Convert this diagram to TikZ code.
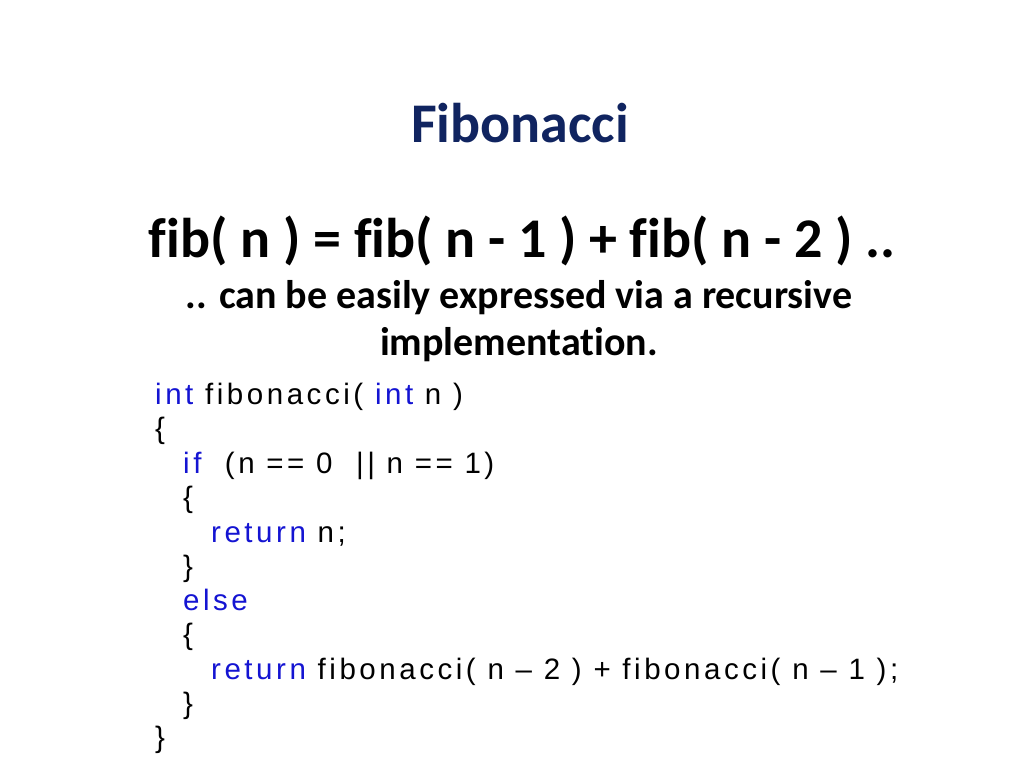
\documentclass[tikz,border=0pt]{standalone}
\usepackage{fontspec}
\setmainfont[Ligatures={NoCommon}]{Carlito}
\newfontfamily\codefont[LetterSpace=12]{Liberation Sans}
\definecolor{ttl}{RGB}{16,36,96}
\definecolor{kw}{RGB}{20,20,210}
\begin{document}
\begin{tikzpicture}[x=1pt,y=-1pt,
  code/.style={anchor=base west,inner sep=0pt,font=\codefont\fontsize{29.5}{32}\selectfont}]
\useasboundingbox (0,0) rectangle (1024,768);
\node[font=\bfseries\fontsize{56}{60}\selectfont,text=ttl] (t) at (520,123) {Fibonacci};
\node[font=\bfseries\fontsize{56}{60}\selectfont] (f) at (522,241) {fib( n ) = fib( n - 1 ) + fib( n - 2 ) ..};
\node[font=\bfseries\fontsize{40}{44}\selectfont] (s1) at (519,298) {.. can be easily expressed via a recursive};
\node[font=\bfseries\fontsize{40}{44}\selectfont] (s2) at (519,345) {implementation.};
\node[code] (c1) at (155,404) {\textcolor{kw}{int} fibonacci( \textcolor{kw}{int} n )};
\node[code] (c2) at (155,438) {\{};
\node[code] (c3) at (183,473) {\textcolor{kw}{if} \ (n == 0 \ || n == 1)};
\node[code] (c4) at (183,507) {\{};
\node[code] (c5) at (211,542) {\textcolor{kw}{return} n;};
\node[code] (c6) at (183,576) {\}};
\node[code] (c7) at (183,610) {\textcolor{kw}{else}};
\node[code] (c8) at (183,644) {\{};
\node[code] (c9) at (211,679) {\textcolor{kw}{return} fibonacci( n – 2 ) + fibonacci( n – 1 );};
\node[code] (c10) at (183,713) {\}};
\node[code] (c11) at (155,747) {\}};
\end{tikzpicture}
\end{document}
